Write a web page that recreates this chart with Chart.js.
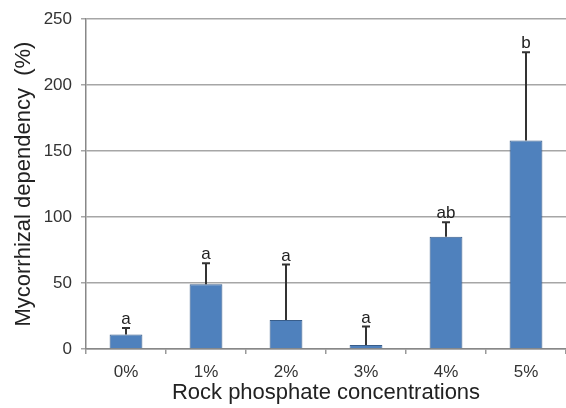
<!DOCTYPE html>
<html>
<head>
<meta charset="utf-8">
<script src="https://cdn.jsdelivr.net/npm/chart.js@4"></script>
<style>
html, body { margin: 0; padding: 0; background: #fff; }
#wrap { width: 566px; height: 408px; }
</style>
</head>
<body>
<div id="wrap"><canvas id="dep"></canvas></div>
<script>
// values
var concentrations = ["0%", "1%", "2%", "3%", "4%", "5%"];
var dependency = [11, 49, 22, 3, 85, 158];
var errUpper = [5, 16, 42, 14, 11, 67];
var letters = ["a", "a", "a", "a", "ab", "b"];
var yTicks = [0, 50, 100, 150, 200, 250];

Chart.defaults.font.family = '"Liberation Sans", Arial, sans-serif';
Chart.defaults.color = '#333';

var errorBars = {
  id: 'errorBars',
  afterDatasetsDraw: function(chart) {
    var ctx = chart.ctx;
    var y = chart.scales.y;
    var meta = chart.getDatasetMeta(0);
    ctx.save();
    ctx.strokeStyle = '#333';
    ctx.lineWidth = 2;
    ctx.fillStyle = '#222';
    ctx.font = '17px "Liberation Sans", Arial, sans-serif';
    ctx.textAlign = 'center';
    ctx.textBaseline = 'alphabetic';
    meta.data.forEach(function(bar, i) {
      var base = y.getPixelForValue(dependency[i]);
      var top = y.getPixelForValue(dependency[i] + errUpper[i]);
      ctx.beginPath();
      ctx.moveTo(bar.x, base);
      ctx.lineTo(bar.x, top);
      ctx.moveTo(bar.x - 4, top);
      ctx.lineTo(bar.x + 4, top);
      ctx.stroke();
      ctx.fillText(letters[i], bar.x, top - 4);
    });
    ctx.restore();
  }
};

new Chart(document.getElementById("dep"), {
  type: 'bar',
  data: {
    labels: concentrations,
    datasets: [
      {
        label: "Mycorrhizal dependency",
        data: dependency,
        backgroundColor: "#4f81bd",
        borderColor: "#385d8a",
        borderWidth: 1,
        barPercentage: 0.41,
        categoryPercentage: 1
      }
    ]
  },
  options: {
    responsive: true,
    maintainAspectRatio: false,
    animation: false,
    layout: { padding: { top: 14, right: 0, left: 0, bottom: 0 } },
    plugins: {
      legend: { display: false },
      tooltip: { enabled: false }
    },
    scales: {
      x: {
        grid: { drawOnChartArea: false, color: '#999', lineWidth: 1.5, tickLength: 5 },
        border: { color: '#888', width: 1.5 },
        ticks: { font: { size: 17 }, padding: 8, color: '#333' },
        title: { display: true, text: 'Rock phosphate concentrations', font: { size: 22 }, color: '#222', padding: { top: 0, bottom: 2 } },
        afterFit: function(s) { s.height = 59; }
      },
      y: {
        min: 0,
        max: 250,
        afterBuildTicks: function(s) { s.ticks = yTicks.map(function(v) { return { value: v }; }); },
        grid: { color: '#a6a6a6', lineWidth: 1.5, tickLength: 5 },
        border: { color: '#888', width: 1.5 },
        ticks: { font: { size: 17 }, padding: 9, color: '#333' },
        title: { display: true, text: 'Mycorrhizal dependency  (%)', font: { size: 22 }, color: '#222', padding: { top: 11, bottom: 0 } },
        afterFit: function(s) { s.width = 86; }
      }
    }
  },
  plugins: [errorBars]
});
</script>
</body>
</html>
